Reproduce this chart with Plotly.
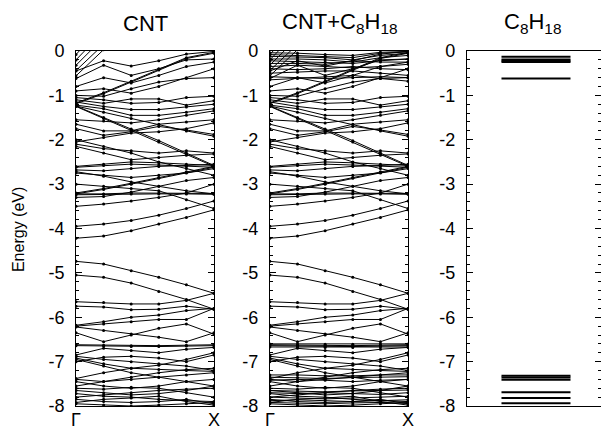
import plotly.graph_objects as go

kpoints = [0, 1, 2, 3, 4, 5]
k_labels = ["Γ", "X"]
energy_ticks = [0, -1, -2, -3, -4, -5, -6, -7, -8]
energy_ticktext = ["0", "-1", "-2", "-3", "-4", "-5", "-6", "-7", "-8"]

cnt_bands = [
    [-0.08, 0.60, 1.2, 1.2, 1.2, 1.2],
    [-0.20, 0.45, 1.2, 1.2, 1.2, 1.2],
    [-0.32, 0.30, 1.2, 1.2, 1.2, 1.2],
    [-0.44, 0.15, 1.2, 1.2, 1.2, 1.2],
    [-0.56, 0.03, 1.2, 1.2, 1.2, 1.2],
    [-0.45, -0.22, -0.34, -0.22, -0.07, -0.01],
    [-0.62, -0.32, -0.55, -0.40, -0.20, -0.18],
    [-0.80, -0.60, -0.72, -0.55, -0.35, -0.25],
    [-1.17, -0.94, -0.68, -0.41, -0.15, -0.03],
    [-1.19, -0.96, -0.70, -0.43, -0.17, -0.05],
    [-0.90, -0.85, -0.95, -0.80, -0.60, -0.40],
    [-1.00, -1.02, -0.85, -0.70, -0.62, -0.60],
    [-1.05, -1.10, -1.18, -1.16, -1.05, -1.02],
    [-1.10, -1.18, -1.08, -1.08, -1.22, -1.12],
    [-1.15, -1.25, -1.32, -1.32, -1.26, -1.20],
    [-1.22, -1.30, -1.45, -1.45, -1.38, -1.30],
    [-1.24, -1.50, -1.76, -2.02, -2.30, -2.58],
    [-1.25, -1.52, -1.78, -2.05, -2.33, -2.60],
    [-1.24, -1.38, -1.52, -1.66, -1.80, -1.92],
    [-1.55, -1.58, -1.62, -1.55, -1.45, -1.35],
    [-1.65, -1.80, -1.80, -1.65, -1.60, -1.55],
    [-1.75, -1.90, -1.82, -1.70, -1.78, -1.88],
    [-2.05, -1.95, -1.85, -1.82, -1.75, -1.62],
    [-2.10, -2.20, -2.25, -2.30, -2.25, -2.30],
    [-2.15, -2.30, -2.45, -2.40, -2.35, -2.32],
    [-2.00, -2.15, -2.30, -2.50, -2.65, -2.80],
    [-2.60, -2.55, -2.50, -2.52, -2.55, -2.58],
    [-2.62, -2.58, -2.55, -2.57, -2.60, -2.62],
    [-2.68, -2.70, -2.65, -2.60, -2.58, -2.55],
    [-2.75, -2.80, -2.85, -2.80, -2.75, -2.65],
    [-2.72, -2.82, -2.95, -3.05, -3.15, -3.22],
    [-3.20, -3.10, -2.98, -2.85, -2.72, -2.60],
    [-3.22, -3.12, -3.00, -2.87, -2.74, -2.62],
    [-3.22, -3.22, -3.20, -3.20, -3.20, -3.21],
    [-3.24, -3.23, -3.22, -3.22, -3.22, -3.23],
    [-3.00, -3.05, -3.10, -3.15, -3.35, -3.55],
    [-3.30, -3.28, -3.18, -3.05, -2.92, -2.85],
    [-3.50, -3.45, -3.38, -3.30, -3.20, -3.00],
    [-3.95, -3.90, -3.82, -3.70, -3.55, -3.38],
    [-4.22, -4.17, -4.05, -3.90, -3.75, -3.58],
    [-4.74, -4.80, -4.95, -5.10, -5.27, -5.46],
    [-5.05, -5.10, -5.23, -5.42, -5.60, -5.82],
    [-5.65, -5.67, -5.70, -5.70, -5.62, -5.46],
    [-5.75, -5.77, -5.83, -5.82, -5.75, -5.82],
    [-6.18, -6.10, -6.00, -5.95, -5.85, -5.80],
    [-6.20, -6.15, -6.10, -6.05, -6.05, -5.80],
    [-6.22, -6.30, -6.38, -6.45, -6.55, -6.35],
    [-6.35, -6.55, -6.40, -6.25, -6.15, -6.38],
    [-6.62, -6.63, -6.64, -6.64, -6.63, -6.62],
    [-6.64, -6.65, -6.66, -6.66, -6.65, -6.64],
    [-6.85, -6.70, -6.75, -6.80, -6.72, -6.68],
    [-6.88, -6.95, -7.00, -7.05, -7.10, -7.20],
    [-6.92, -7.05, -7.15, -7.18, -7.20, -7.22],
    [-7.00, -6.90, -6.88, -6.92, -7.00, -6.85],
    [-7.38, -7.25, -7.15, -7.08, -6.95, -6.80],
    [-7.40, -7.45, -7.40, -7.35, -7.30, -7.25],
    [-7.45, -7.55, -7.60, -7.55, -7.45, -7.40],
    [-7.60, -7.62, -7.58, -7.60, -7.70, -7.80],
    [-7.65, -7.70, -7.75, -7.72, -7.65, -7.55],
    [-7.72, -7.78, -7.80, -7.85, -7.88, -7.90],
    [-7.80, -7.75, -7.70, -7.65, -7.62, -7.60],
    [-7.85, -7.90, -7.92, -7.90, -7.85, -7.95],
    [-7.92, -7.85, -7.82, -7.78, -7.90, -7.98],
    [-7.95, -7.98, -8.00, -7.98, -7.95, -7.92],
    [-7.55, -7.45, -7.35, -7.25, -7.18, -7.15],
    [-6.95, -7.10, -7.25, -7.35, -7.45, -7.55],
]

# extra bands appearing in the CNT + C8H18 system
hybrid_extra_bands = [
    [-0.04, -0.05, -0.08, -0.10, -0.03, -0.01],
    [-0.08, -0.10, -0.12, -0.15, -0.05, -0.02],
    [-0.12, -0.14, -0.15, -0.20, -0.10, -0.05],
    [-0.18, -0.18, -0.20, -0.25, -0.15, -0.10],
    [-0.22, -0.24, -0.25, -0.28, -0.22, -0.18],
    [-0.28, -0.28, -0.30, -0.22, -0.25, -0.25],
    [-0.35, -0.32, -0.35, -0.38, -0.35, -0.30],
    [-0.40, -0.42, -0.40, -0.35, -0.40, -0.42],
    [-0.50, -0.48, -0.45, -0.45, -0.50, -0.55],
    [-0.58, -0.60, -0.62, -0.60, -0.58, -0.60],
    [-0.65, -0.62, -0.58, -0.55, -0.62, -0.68],
    [-6.60, -6.60, -6.61, -6.61, -6.60, -6.60],
    [-6.67, -6.67, -6.68, -6.68, -6.67, -6.67],
    [-7.30, -7.30, -7.32, -7.32, -7.30, -7.30],
    [-7.35, -7.36, -7.38, -7.36, -7.35, -7.34],
    [-7.42, -7.40, -7.42, -7.45, -7.42, -7.40],
    [-7.65, -7.66, -7.68, -7.66, -7.65, -7.64],
    [-7.70, -7.72, -7.70, -7.72, -7.74, -7.70],
    [-7.80, -7.82, -7.84, -7.82, -7.80, -7.78],
    [-7.88, -7.86, -7.88, -7.90, -7.88, -7.86],
    [-7.92, -7.94, -7.95, -7.93, -7.92, -7.94],
]

c8h18_levels = [-0.13, -0.19, -0.22, -0.25, -0.62, -7.32, -7.36, -7.41, -7.69, -7.82, -7.94]
level_x = [0.25, 0.5, 0.75]

fig = go.Figure()


def add_bands(bands, xa, ya):
    for b in bands:
        fig.add_trace(go.Scatter(
            x=kpoints, y=b, mode="lines+markers",
            line=dict(color="black", width=1),
            marker=dict(size=3, color="black", line=dict(width=0)),
            xaxis=xa, yaxis=ya, showlegend=False, hoverinfo="skip"))


add_bands(cnt_bands, "x", "y")
add_bands(cnt_bands + hybrid_extra_bands, "x2", "y2")

for lv in c8h18_levels:
    fig.add_trace(go.Scatter(
        x=level_x, y=[lv] * len(level_x), mode="lines",
        line=dict(color="black", width=2),
        xaxis="x3", yaxis="y3", showlegend=False, hoverinfo="skip"))

FONT = "Liberation Sans, Arial, Helvetica, sans-serif"

ydom = [0.0645, 0.8825]


def yaxis(anchor):
    return dict(
        domain=ydom, anchor=anchor, range=[-8, 0], automargin=False,
        tickmode="array", tickvals=energy_ticks, ticktext=energy_ticktext,
        ticks="inside", ticklen=6, tickwidth=1, tickcolor="black",
        ticklabelstandoff=7,
        showline=True, linecolor="black", linewidth=1, mirror="ticks",
        showgrid=False, zeroline=False,
        tickfont=dict(family=FONT, size=18, color="black"),
        minor=dict(tickmode="linear", tick0=0, dtick=0.2, ticks="inside",
                   ticklen=3, tickwidth=1, tickcolor="black", showgrid=False),
    )


def xaxis(dom, anchor, rng, labels=True):
    d = dict(
        domain=dom, anchor=anchor, range=rng, automargin=False,
        showline=True, linecolor="black", linewidth=1, mirror=True,
        showgrid=False, zeroline=False, ticks="",
        tickfont=dict(family=FONT, size=18, color="black"),
    )
    if labels:
        d.update(tickmode="array", tickvals=[kpoints[0], kpoints[-1]], ticktext=k_labels,
                 ticklabelstandoff=-3)
    else:
        d.update(showticklabels=False)
    return d


def title(text, x):
    return dict(text=text, x=x, y=0.947, xref="paper", yref="paper",
                xanchor="center", yanchor="middle",
                showarrow=False, font=dict(size=22, family=FONT))


fig.update_layout(
    width=601, height=434, autosize=False,
    margin=dict(l=0, r=0, t=0, b=0, pad=0, autoexpand=False),
    paper_bgcolor="white", plot_bgcolor="white",
    font=dict(family=FONT, color="black"),
    xaxis=xaxis([0.1265, 0.356], "y", [0, 5]),
    xaxis2=xaxis([0.449, 0.679], "y2", [0, 5]),
    xaxis3=xaxis([0.777, 1.0], "y3", [0, 0.971], labels=False),
    yaxis=yaxis("x"),
    yaxis2=yaxis("x2"),
    yaxis3=yaxis("x3"),
    annotations=[
        title("CNT", 0.2413),
        title("CNT+C<sub>8</sub>H<sub>18</sub>", 0.566),
        title("C<sub>8</sub>H<sub>18</sub>", 0.886),
        dict(text="Energy (eV)", x=0.03, y=0.47, xref="paper", yref="paper",
             xanchor="center", yanchor="middle",
             showarrow=False, textangle=-90, font=dict(size=16, family=FONT)),
    ],
)

fig.write_html(
    "out.html",
    config={"responsive": False, "displayModeBar": False},
    post_script=(
        "document.body.style.margin='0';document.body.style.padding='0';"
        "document.body.style.overflow='hidden';"
        "document.documentElement.style.overflow='hidden';"
    ),
)
